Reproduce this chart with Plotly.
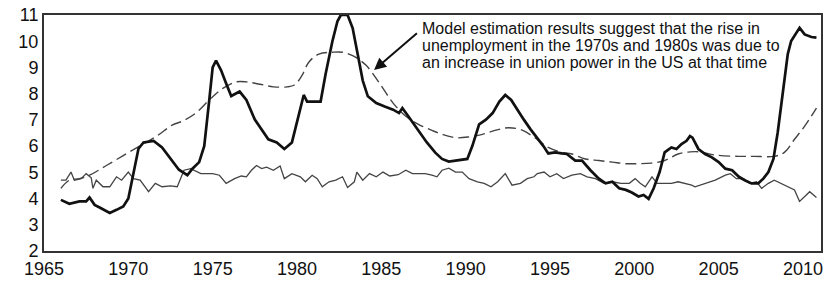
import plotly.graph_objects as go

# Actual unemployment rate (thick black line)
years_u = [1966.0,1966.5,1967.1,1967.5,1967.7,1968.0,1968.3,1968.9,1969.3,1969.7,
           1970.0,1970.3,1970.6,1970.9,1971.5,1972.0,1972.3,1972.7,1973.0,1973.5,
           1973.8,1974.2,1974.5,1974.8,1975.0,1975.2,1975.5,1975.8,1976.1,1976.6,
           1977.0,1977.5,1977.9,1978.3,1978.8,1979.25,1979.7,1980.0,1980.2,1980.4,
           1980.6,1981.0,1981.4,1981.7,1982.1,1982.4,1982.6,1983.0,1983.3,1983.6,
           1983.9,1984.2,1984.7,1985.2,1985.7,1986.05,1986.25,1986.6,1987.2,1987.7,
           1988.2,1988.6,1989.0,1989.6,1990.1,1990.4,1990.8,1991.2,1991.6,1992.0,
           1992.35,1992.7,1993.05,1993.45,1993.85,1994.25,1994.6,1994.9,1995.3,1995.7,
           1996.0,1996.5,1996.9,1997.4,1997.9,1998.3,1998.7,1999.1,1999.5,1999.85,
           2000.25,2000.55,2000.85,2001.15,2001.5,2001.8,2002.2,2002.5,2002.8,2003.1,
           2003.3,2003.45,2003.8,2004.2,2004.6,2005.0,2005.4,2005.8,2006.2,2006.55,
           2006.95,2007.35,2007.65,2007.95,2008.25,2008.5,2008.8,2009.1,2009.3,2009.5,
           2009.8,2010.1,2010.5,2010.8]
values_u = [3.95,3.80,3.89,3.89,4.04,3.76,3.66,3.45,3.57,3.70,
            4.00,5.00,5.90,6.14,6.20,5.95,5.70,5.35,5.10,4.89,
            5.14,5.39,6.00,7.76,9.00,9.26,8.89,8.39,7.91,8.08,
            7.76,7.01,6.64,6.26,6.14,5.89,6.14,6.90,7.50,7.95,
            7.70,7.70,7.70,8.76,10.00,10.76,11.00,11.00,10.50,9.50,
            8.50,7.90,7.64,7.51,7.39,7.26,7.45,7.14,6.58,6.14,
            5.75,5.51,5.41,5.45,5.51,6.01,6.83,7.01,7.26,7.70,
            7.95,7.76,7.39,7.01,6.64,6.32,6.01,5.72,5.76,5.72,
            5.70,5.45,5.45,5.08,4.76,4.58,4.64,4.39,4.33,4.23,
            4.08,4.14,3.99,4.39,5.01,5.76,5.95,5.89,6.08,6.20,
            6.38,6.32,5.89,5.70,5.57,5.39,5.14,5.08,4.83,4.70,
            4.58,4.58,4.76,5.01,5.51,6.51,8.01,9.51,10.01,10.20,
            10.51,10.26,10.16,10.14]

# Model estimate (dashed line)
years_m = [1966.0,1966.5,1967.1,1967.7,1968.7,1969.7,1970.7,1971.7,1972.6,1973.2,
           1974.0,1974.8,1975.6,1976.4,1977.0,1977.8,1978.6,1979.4,1979.85,1980.3,
           1980.7,1981.3,1982.1,1982.7,1983.3,1984.1,1984.9,1985.7,1986.45,1987.2,
           1988.0,1988.6,1989.4,1990.2,1991.0,1991.8,1992.55,1993.35,1994.1,1994.9,
           1995.7,1996.3,1997.1,1997.9,1998.7,1999.5,2000.25,2001.0,2001.8,2002.6,
           2003.3,2003.9,2004.8,2006.2,2007.1,2008.3,2008.9,2009.5,2010.1,2010.8]
values_m = [4.39,4.70,4.76,4.89,5.26,5.64,6.01,6.39,6.80,6.95,
            7.26,7.76,8.20,8.45,8.45,8.36,8.26,8.26,8.33,8.70,
            9.20,9.51,9.58,9.58,9.45,9.08,8.39,7.64,7.14,6.83,
            6.60,6.45,6.32,6.35,6.45,6.61,6.70,6.61,6.32,5.95,
            5.76,5.70,5.51,5.45,5.39,5.33,5.33,5.35,5.45,5.70,
            5.78,5.78,5.66,5.61,5.61,5.61,5.76,6.26,6.76,7.45]

# Thin grey series
years_n = [1966.0,1966.3,1966.6,1966.8,1967.2,1967.5,1967.8,1967.9,1968.1,1968.5,
           1968.9,1969.3,1969.6,1970.0,1970.3,1970.7,1971.2,1971.6,1972.0,1972.5,
           1972.9,1973.3,1973.7,1974.3,1975.0,1975.4,1975.8,1976.3,1976.7,1977.0,
           1977.3,1977.6,1977.9,1978.2,1978.6,1979.0,1979.25,1979.7,1980.2,1980.5,
           1980.9,1981.2,1981.5,1981.9,1982.3,1982.7,1983.0,1983.4,1983.55,1983.9,
           1984.3,1984.7,1985.1,1985.5,1986.0,1986.45,1986.85,1987.6,1988.0,1988.3,
           1988.6,1989.0,1989.4,1989.8,1990.2,1990.7,1991.1,1991.5,1991.9,1992.35,
           1992.75,1993.25,1993.65,1994.05,1994.25,1994.65,1995.0,1995.4,1995.8,1996.3,
           1996.8,1997.2,1997.7,1998.2,1998.7,1999.2,1999.7,2000.05,2000.35,2000.65,
           2001.05,2001.35,2001.8,2002.2,2002.6,2003.0,2003.4,2003.6,2004.2,2004.8,
           2005.4,2005.7,2006.05,2006.45,2006.85,2007.25,2007.55,2007.95,2008.3,2008.7,
           2009.1,2009.5,2009.8,2010.1,2010.4,2010.8]
values_n = [4.70,4.70,5.01,4.70,4.76,4.95,4.79,4.39,4.70,4.45,
            4.45,4.83,4.70,5.01,4.76,4.70,4.26,4.58,4.45,4.48,
            4.45,5.08,5.14,4.95,4.95,4.89,4.58,4.76,4.86,4.83,
            5.08,5.26,5.14,5.20,5.08,5.24,4.76,4.95,4.83,4.64,
            4.89,4.76,4.45,4.64,4.70,4.83,4.42,4.64,5.01,4.70,
            4.95,4.83,5.01,4.86,4.91,5.08,4.95,4.95,4.89,4.83,
            5.08,5.16,5.01,5.01,4.76,4.64,4.58,4.45,4.64,4.95,
            4.51,4.58,4.76,4.83,4.95,5.01,4.83,4.95,4.76,4.89,
            4.95,4.83,4.76,4.58,4.64,4.58,4.58,4.76,4.58,4.45,
            4.83,4.58,4.58,4.58,4.64,4.58,4.51,4.45,4.58,4.70,
            4.89,4.95,4.76,4.76,4.58,4.64,4.39,4.58,4.70,4.58,
            4.45,4.33,3.89,4.08,4.26,4.04]

x_ticks = [1965, 1970, 1975, 1980, 1985, 1990, 1995, 2000, 2005, 2010]
y_ticks = [2, 3, 4, 5, 6, 7, 8, 9, 10, 11]

note_lines = ["Model estimation results suggest that the rise in",
              "unemployment in the 1970s and 1980s was due to",
              "an increase in union power in the US at that time"]
note_y = [10.475, 9.84, 9.20]

fig = go.Figure()
fig.add_trace(go.Scatter(x=years_n, y=values_n, mode="lines",
                         line=dict(color="#444444", width=1.3)))
fig.add_trace(go.Scatter(x=years_m, y=values_m, mode="lines",
                         line=dict(color="#444444", width=1.4, dash="11px,5px", shape="spline")))
fig.add_trace(go.Scatter(x=years_u, y=values_u, mode="lines",
                         line=dict(color="#111111", width=2.7)))

font_main = "Liberation Sans, Arial, sans-serif"

for txt, yv in zip(note_lines, note_y):
    fig.add_annotation(x=1987.29, y=yv, xref="x", yref="y", text=txt,
                       showarrow=False, xanchor="left", yanchor="middle",
                       font=dict(family=font_main, size=16, color="#111"))

fig.add_annotation(x=1984.57, y=8.90, xref="x", yref="y",
                   ax=1987.2, ay=10.35, axref="x", ayref="y",
                   text="", showarrow=True, arrowhead=2, arrowsize=1.2,
                   arrowwidth=2, arrowcolor="#111")

fig.update_layout(
    width=828, height=284,
    margin=dict(l=44, r=5, t=12, b=32),
    paper_bgcolor="white", plot_bgcolor="white",
    showlegend=False,
    font=dict(family=font_main, size=18, color="#111"),
)
fig.update_xaxes(range=[1965, 2011.07], tickvals=x_ticks, ticktext=[str(v) for v in x_ticks],
                 showgrid=False, zeroline=False, showline=True, linecolor="#333",
                 linewidth=2, mirror=True, ticks="")
fig.update_yaxes(range=[2, 11], tickvals=y_ticks, ticktext=[str(v) for v in y_ticks],
                 showgrid=False, zeroline=False, showline=True, linecolor="#333",
                 linewidth=2, mirror=True, ticks="")

fig.write_html("out.html", config={"displayModeBar": False},
               post_script="document.body.style.margin='0';")
